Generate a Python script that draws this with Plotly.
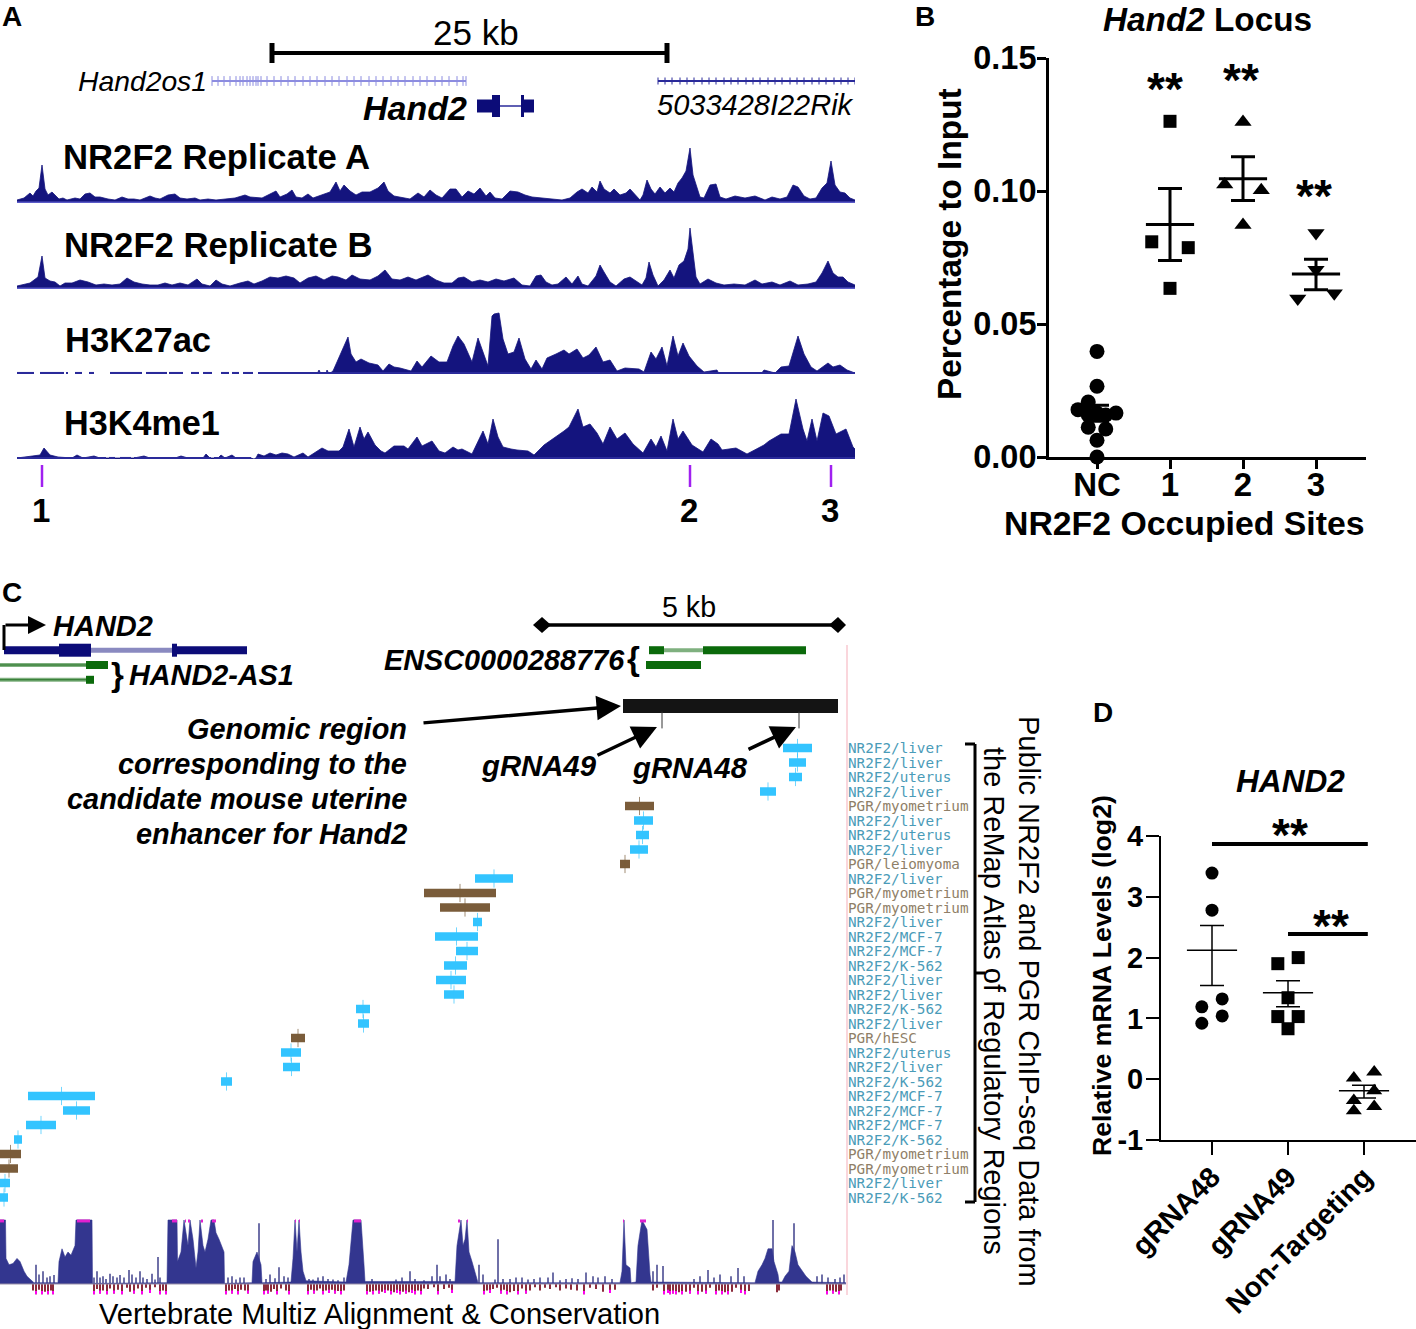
import plotly.graph_objects as go

W, H = 1416, 1329
FONT = "Liberation Sans"
NAVY = "#14147e"

# ================= PANEL A DATA =================
# (position, signal height) read off the browser tracks
TRACK_A = [(17,3),(24,5),(30,10),(33,7),(36,12),(39,15),(42,38),(45,14),(48,8),(52,11),(55,8),(59,4),(63,5),(67,3),(75,5),(80,4),
    (85,9),(90,10),(95,6),(100,6),(108,4),(115,3),(122,6),(128,4),(134,4),(140,3),(150,7),(155,5),(160,4),(168,8),(175,9),(180,5),
    (187,4),(195,5),(200,3),(208,4),(216,3),(225,4),(235,5),(245,8),(250,6),(262,5),(272,10),(276,12),(280,6),(287,9),(292,13),
    (296,6),(302,5),(308,9),(313,5),(322,8),(330,11),(336,21),(340,12),(344,18),(350,12),(356,8),(362,11),(370,11),(378,15),(384,21),
    (388,12),(394,7),(400,6),(410,4),(418,10),(424,6),(430,13),(436,8),(442,5),(450,14),(456,14),(462,6),(468,12),(474,9),(480,15),
    (486,7),(490,11),(495,5),(502,4),(510,12),(518,11),(525,8),(532,6),(540,5),(550,4),(562,3),(570,5),(577,11),(582,14),(588,10),
    (592,16),(597,11),(600,22),(604,14),(610,10),(614,14),(620,8),(626,10),(630,14),(636,7),(640,3),(643,8),(647,23),(651,14),(655,9),
    (660,16),(665,10),(670,15),(674,11),(678,20),(682,25),(686,32),(690,55),(693,28),(697,14),(700,6),(704,5),(710,18),(716,19),(720,6),
    (726,4),(735,7),(745,5),(755,7),(765,3),(772,6),(780,4),(787,6),(793,18),(798,16),(804,7),(810,4),(816,5),(822,15),(827,20),(831,42),
    (835,18),(840,11),(845,10),(850,5),(855,3)]
TRACK_B = [(17,3),(24,5),(30,6),(34,9),(38,12),(42,33),(45,11),(50,8),(55,7),(60,3),(65,6),(72,6),(80,9),(88,7),(96,4),(104,5),(112,4),
    (120,5),(127,11),(134,7),(142,5),(150,4),(158,4),(165,6),(172,4),(180,6),(188,4),(197,10),(202,5),(210,3),(216,9),(222,5),(230,3),
    (240,6),(248,8),(254,5),(262,8),(270,12),(278,11),(286,13),(294,11),(300,6),(308,11),(316,13),(324,9),(332,13),(338,12),(346,9),
    (352,14),(360,10),(370,9),(378,13),(385,19),(392,10),(400,9),(408,12),(416,9),(428,14),(436,9),(444,6),(452,6),(458,11),(464,12),
    (472,7),(480,9),(488,7),(496,10),(504,8),(514,11),(522,4),(530,3),(536,13),(541,14),(546,7),(552,4),(558,5),(566,12),(572,5),(578,13),
    (582,5),(588,3),(596,13),(600,24),(604,17),(610,7),(616,3),(624,10),(630,12),(636,8),(642,4),(646,11),(649,27),(653,14),(658,3),
    (664,9),(670,19),(674,11),(679,24),(684,28),(688,40),(690,61),(693,33),(696,12),(700,5),(708,10),(716,6),(724,4),(734,5),(745,4),
    (755,9),(762,5),(772,7),(780,4),(790,8),(798,4),(808,5),(816,7),(822,16),(828,28),(833,16),(838,12),(843,12),(848,7),(855,4)]
TRACK_C = [(317,0),(319,4),(321,0),(326,0),(327,4),(329,0),(333,3),(336,10),(339,16),(348,37),(351,20),(356,12),(361,15),(369,11),(378,9),
    (383,3),(389,10),(394,7),(400,6),(411,3),(417,13),(422,7),(431,18),(439,12),(447,12),(453,28),(458,38),(464,30),(472,12),(478,36),
    (483,22),(488,8),(492,58),(494,60),(499,61),(503,35),(508,20),(514,22),(519,36),(525,15),(531,5),(536,14),(542,5),(547,16),(556,20),
    (564,24),(569,20),(577,25),(583,16),(589,19),(596,27),(603,12),(610,14),(617,3),(625,6),(639,5),(644,2),(651,22),(656,15),(662,27),
    (667,8),(673,38),(678,18),(683,31),(689,18),(697,8),(704,2),(717,4),(719,0),(761,0),(764,4),(775,1),(781,7),(789,8),(798,38),(804,20),
    (811,7),(817,3),(828,11),(833,7),(840,9),(847,4),(855,1)]
TRACK_D = [(17,1),(33,3),(40,4),(44,11),(50,4),(58,2),(72,1),(77,4),(83,1),(94,3),(100,1),(106,1),(134,1),(144,3),(150,1),(175,1),(181,3),
    (188,1),(203,1),(206,5),(210,1),(218,1),(221,4),(225,1),(232,4),(236,1),(251,1),(254,0),(256,1),(258,5),(264,3),(270,6),(276,4),(282,6),
    (288,5),(294,2),(303,6),(308,2),(322,11),(328,8),(335,8),(339,8),(343,12),(349,30),(354,12),(360,32),(364,20),(368,27),(375,14),(381,8),
    (385,6),(394,13),(404,13),(408,10),(417,22),(422,13),(432,18),(439,8),(445,6),(453,12),(458,9),(462,10),(472,5),(483,28),(488,15),(493,40),
    (498,22),(503,12),(511,10),(517,9),(528,8),(534,4),(544,14),(556,22),(564,28),(569,32),(578,50),(583,32),(590,35),(597,26),(603,15),(610,32),
    (617,20),(625,26),(633,15),(643,6),(651,20),(656,12),(661,23),(667,8),(673,40),(678,20),(683,28),(692,14),(703,7),(711,20),(718,15),(722,9),
    (736,11),(747,5),(764,14),(769,18),(781,25),(789,25),(796,60),(803,30),(807,18),(812,40),(817,18),(823,46),(829,43),(836,25),(846,30),(853,12),(855,10)]
track_tops = [203, 289, 374, 459]
track_data = [TRACK_A, TRACK_B, TRACK_C, TRACK_D]
track_names = ["NR2F2 Replicate A", "NR2F2 Replicate B", "H3K27ac", "H3K4me1"]
track_label_x = [62, 63, 64, 63]
track_label_y = [157, 245, 340, 423]
track_label_size = [34.7, 34.7, 34.6, 34.2]

# covered stretches of the two histone tracks
k27_start = [17,40,66,75,89,110,146,169,191,203,221,232,243,258]
k27_end = [34,64,68,82,94,142,167,183,199,212,229,239,253,855]
k4_start = [17,109,120,134,214,256]
k4_end = [106,115,131,211,251,855]

sites = ["1", "2", "3"]
site_pos = [42, 690, 831]

hand2os1_ticks = [212,218,224,230,236,240,243,247,250,253,256,258,261,267,274,281,288,295,303,310,317,325,332,339,347,354,361,369,376,383,391,398,405,413,420,427,435,442,449,457,463,466]
rik_ticks = [658,665,672,680,687,694,702,709,716,724,731,738,746,753,760,768,775,782,790,797,804,812,819,826,834,841,848,855]
hand2_thin_start = [477, 524]
hand2_thin_end = [492, 534]
hand2_thick_start = [492, 521]
hand2_thick_end = [500, 524]

# ================= PANEL B DATA =================
b_cats = ["NC", "1", "2", "3"]
nc_x = [0,0,-0.12,-0.26,0.26,0,-0.12,0.12,-0.12,0.12,0,0]
nc_y = [0.0397,0.0266,0.0207,0.0178,0.0165,0.0165,0.0158,0.0158,0.0112,0.0105,0.0063,0.0]
s1_x = [1,0.75,1.25,1]
s1_y = [0.1262,0.0809,0.0787,0.0634]
s2_x = [2,1.75,2.25,2]
s2_y = [0.1259,0.1024,0.1003,0.0872]
s3_x = [3,3,2.75,3.25]
s3_y = [0.0842,0.0704,0.0596,0.0616]
b_mean = [0.0164,0.0874,0.1046,0.0688]
b_err_up = [0.0031,0.0135,0.0083,0.0055]
b_err_down = [0.0030,0.0135,0.0082,0.0059]

# ================= PANEL D DATA =================
d_cats = ["gRNA48", "gRNA49", "Non-Targeting"]
d_ticks = [-1, 0, 1, 2, 3, 4]
d_tick_text = ["-1", "0", "1", "2", "3", "4"]
g48_x = [0,0,0.134,-0.134,0.134,-0.134]
g48_y = [3.39,2.78,1.32,1.19,1.04,0.92]
g49_x = [1.134,0.866,1,0.866,1.134,1]
g49_y = [2.0,1.9,1.34,1.03,1.03,0.83]
nt_x = [2.134,1.866,2.134,1.866,2.134,1.866]
nt_y = [0.12,0.02,-0.19,-0.35,-0.45,-0.52]
d_mean = [2.12,1.42,-0.19]
d_err_up = [0.41,0.20,0.09]
d_err_down = [0.58,0.23,0.12]
d_sig_start = [0,1]
d_sig_end = [2.05,2.05]
d_sig_y = [3.87,2.39]

# ================= PANEL C DATA =================
remap_labels = ["NR2F2/liver","NR2F2/liver","NR2F2/uterus","NR2F2/liver","PGR/myometrium","NR2F2/liver","NR2F2/uterus","NR2F2/liver",
    "PGR/leiomyoma","NR2F2/liver","PGR/myometrium","PGR/myometrium","NR2F2/liver","NR2F2/MCF-7","NR2F2/MCF-7","NR2F2/K-562",
    "NR2F2/liver","NR2F2/liver","NR2F2/K-562","NR2F2/liver","PGR/hESC","NR2F2/uterus","NR2F2/liver","NR2F2/K-562",
    "NR2F2/MCF-7","NR2F2/MCF-7","NR2F2/MCF-7","NR2F2/K-562","PGR/myometrium","PGR/myometrium","NR2F2/liver","NR2F2/K-562"]
remap_start = [783,789,789,760,625,634,636,630,620,475,424,440,473,435,456,444,436,444,356,358,291,281,283,221,28,63,26,14,0,0,0,0]
remap_end = [812,806,802,776,654,653,649,648,630,513,496,490,482,478,478,467,466,464,370,369,305,301,300,232,95,90,56,22,21,18,10,8]

# gene rows: 0 = ENSC/HAND2 top, 1 = second, 2 = third
hand2_big_start = [59,172]
hand2_big_end = [91,177]
as1_intron_start = [0,0]
as1_intron_end = [86,86]
as1_intron_row = [1,2]
as1_exon_start = [86,86]
as1_exon_end = [108,94]
as1_exon_row = [1,2]
ensc_exon_start = [649,703,646]
ensc_exon_end = [664,806,701]
ensc_exon_row = [0,0,1]
grna_pos = [662,799]

# conservation: saturated blocks and the envelope between them
CONS = [(0,1),(5.5,1),(6,.4),(9,.3),(13,.32),(17,.4),(20,.35),(24,.2),(27,.12),(30,.07),(34,.02),(58,.02),(59,.35),(62,.55),(65,.42),(68,.5),
    (71,.45),(75,.6),(76,1),(92,1),(92.5,.01),(167,.02),(168,1),(177,1),(177.5,.35),(181,.5),(184,1),(188,.6),(190,1),(193,.7),(196,.25),(198,.5),
    (200,1),(203,.6),(205,.5),(208,.7),(211,1),(214,1),(216,.8),(219,.7),(224,.5),(224.5,.01),(252,.02),(253,.35),(257,.5),(261,.3),(262,.02),
    (291,.03),(293,.4),(295,1),(297,.5),(299,1),(301,.5),(303,.2),(306,.05),(346,.03),(349,.3),(353,1),(361,1),(364,.3),(365,.04),(455,.04),
    (457,.6),(459,.8),(461,1),(463,.6),(465,.7),(467,1),(469,.5),(472,.35),(477,.1),(478,.02),(620,.02),(622,.2),(624,1),(626,.3),(630,.25),
    (631,.02),(636,.03),(638,.6),(642,1),(647,.85),(650,.15),(651,.03),(755,.02),(758,.2),(762,.3),(765,.4),(768,.55),(772,.55),(774,.35),(778,.15),
    (779,.03),(782,.03),(785,.12),(789,.2),(792,.6),(795,.5),(798,.3),(802,.2),(806,.12),(812,.03),(846,.02)]
CONS_SPIKES = [(36,.3),(39,.15),(43,.2),(47,.1),(50,.12),(54,.14),(94,.1),(97,.2),(100,.1),(103,.12),(106,.08),(110,.16),(113,.12),(117,.1),(120,.14),(124,.1),(129,.22),
    (132,.15),(136,.1),(140,.2),(143,.1),(147,.08),(152,.16),(155,.07),(158,.42),(160,.1),(228,.1),(232,.12),(236,.07),(240,.1),(244,.1),(259,.95),(266,.08),(270,.15),
    (275,.09),(279,.26),(284,.12),(288,.1),(309,.08),(313,.07),(318,.1),(323,.12),(328,.08),(333,.07),(338,.06),(344,.1),(372,.08),(396,.07),(402,.1),(410,.2),(415,.08),
    (424,.06),(432,.12),(437,.3),(440,.12),(446,.15),(450,.08),(479,.3),(483,.15),(495,.07),(498,.7),(503,.08),(510,.08),(516,.1),(522,.1),(528,.07),(534,.08),(540,.1),
    (548,.1),(553,.18),(560,.06),(566,.08),(572,.09),(578,.08),(586,.18),(593,.12),(598,.1),(605,.12),(612,.08),(653,.2),(657,.3),(663,.28),(694,.08),(700,.12),(708,.22),
    (714,.1),(720,.15),(731,.12),(738,.25),(744,.12),(773,1.0),(794,.95),(817,.12),(822,.15),(828,.1),(835,.08),(840,.1),(844,.15)]
cons_cap_start = [0,77,172,185,188,201,212,295,299,354,458,467,623,640]
cons_cap_end = [4,90,177,186,190,203,216,296,300,361,460,468,624,646]
CONS_NEG = [(33,-.1),(36,-.16),(39,-.09),(42,-.16),(45,-.12),(48,-.16),(51,-.1),(53,-.16),(94,-.16),(97,-.08),(100,-.15),(103,-.1),(107,-.16),(110,-.07),(114,-.15),
    (118,-.09),(122,-.16),(127,-.06),(130,-.12),(134,-.15),(138,-.07),(142,-.16),(146,-.06),(150,-.14),(155,-.05),(160,-.16),(163,-.1),(166,-.16),
    (226,-.16),(229,-.1),(232,-.15),(235,-.08),(238,-.16),(241,-.09),(245,-.1),(248,-.15),(264,-.16),(266,-.1),(268,-.15),(271,-.12),(274,-.08),(277,-.16),(281,-.07),(286,-.1),(289,-.16),
    (308,-.16),(311,-.09),(314,-.15),(317,-.1),(320,-.07),(323,-.16),(326,-.1),(329,-.14),(332,-.09),(335,-.15),(338,-.11),(341,-.16),(344,-.1),
    (367,-.16),(370,-.12),(373,-.16),(376,-.1),(379,-.15),(382,-.12),(385,-.14),(388,-.1),(391,-.16),(394,-.13),(397,-.14),(400,-.16),(403,-.12),(406,-.15),(409,-.13),(412,-.14),(415,-.16),(418,-.1),(421,-.16),(424,-.07),(428,-.08),(434,-.05),(438,-.16),(444,-.08),(449,-.06),(452,-.14),
    (484,-.16),(487,-.1),(490,-.14),(493,-.08),(497,-.06),(501,-.15),(504,-.09),(507,-.16),(510,-.13),(514,-.11),(518,-.16),(522,-.07),(526,-.15),(530,-.1),(535,-.05),(540,-.1),(545,-.06),(550,-.08),(556,-.05),(560,-.1),(566,-.07),(571,-.09),(577,-.1),(584,-.16),(590,-.06),(596,-.08),(603,-.12),(610,-.14),(615,-.09),
    (653,-.1),(657,-.06),(664,-.16),(668,-.14),(670,-.16),(673,-.15),(676,-.16),(679,-.13),(682,-.16),(686,-.12),(690,-.15),(694,-.06),(698,-.16),(702,-.12),(706,-.15),(710,-.06),(716,-.16),(719,-.1),(722,-.16),(725,-.13),(728,-.16),(732,-.12),(736,-.06),(741,-.14),(745,-.16),(749,-.11),
    (777,-.13),(779,-.1),(827,-.16),(830,-.1),(833,-.15),(836,-.12),(839,-.16),(841,-.1)]

# ================= HELPERS =================
def dom_x(left, right):
    return [left / W, right / W]

def dom_y(top, bottom):
    return [1 - bottom / H, 1 - top / H]

def hidden_x(left, right, lo, hi):
    return dict(domain=dom_x(left, right), range=[lo, hi], visible=False)

def hidden_y(top, bottom, lo, hi, anchor="x"):
    return dict(domain=dom_y(top, bottom), range=[lo, hi], visible=False, anchor=anchor)

def segments(starts, ends, rows):
    xs, ys = [], []
    for s, e, r in zip(starts, ends, rows):
        xs += [s, e, None]
        ys += [r, r, None]
    return xs, ys

def blocks(fig, starts, ends, rows, color, width, xa, ya):
    xs, ys = segments(starts, ends, rows)
    fig.add_trace(go.Scatter(x=xs, y=ys, mode="lines", xaxis=xa, yaxis=ya, cliponaxis=False,
                             line=dict(color=color, width=width), hoverinfo="skip"))

def label(x, y, text, size, anchor="left", angle=0, color="black", family=FONT):
    annotations.append(dict(x=x / W, y=1 - y / H, xref="paper", yref="paper", text=text, showarrow=False,
                            xanchor=anchor, yanchor="middle", textangle=angle, borderpad=0,
                            font=dict(family=family, size=size, color=color)))

def arrow(x0, y0, x1, y1, width=3, size=1.0):
    annotations.append(dict(x=x1 / W, y=1 - y1 / H, ax=x0 - x1, ay=y0 - y1, xref="paper", yref="paper",
                            axref="pixel", ayref="pixel", text="", showarrow=True, arrowhead=2,
                            arrowwidth=width, arrowsize=size, arrowcolor="black"))

def rule(x0, y0, x1, y1, width=3, color="black"):
    shapes.append(dict(type="line", xref="paper", yref="paper", x0=x0 / W, y0=1 - y0 / H, x1=x1 / W, y1=1 - y1 / H,
                       line=dict(color=color, width=width)))

def dots(fig, xs, ys, symbol, size, xa, ya):
    fig.add_trace(go.Scatter(x=xs, y=ys, mode="markers", xaxis=xa, yaxis=ya, cliponaxis=False,
                             marker=dict(symbol=symbol, size=size, color="black")))

def mean_sem(fig, cats, mean, up, down, half, thick, cap, xa, ya):
    fig.add_trace(go.Scatter(x=cats, y=mean, mode="markers", xaxis=xa, yaxis=ya, cliponaxis=False, marker=dict(size=1, color="black"),
                             error_x=dict(type="data", array=[half] * len(cats), color="black", thickness=thick, width=0),
                             error_y=dict(type="data", symmetric=False, array=up, arrayminus=down, color="black", thickness=thick, width=cap)))

fig = go.Figure()
annotations, shapes = [], []

# ================= PANEL A =================
layout_axes = {"xaxis": hidden_x(17, 855, 17, 855)}
track_axes = ["y", "y2", "y3", "y4"]
for i, (data, base, ya) in enumerate(zip(track_data, track_tops, track_axes)):
    key = "yaxis" if i == 0 else f"yaxis{i + 1}"
    layout_axes[key] = hidden_y(base - 70, base, 0, 70)
    fig.add_trace(go.Scatter(x=[p[0] for p in data], y=[p[1] for p in data], mode="lines", fill="tozeroy", xaxis="x", yaxis=ya,
                             fillcolor=NAVY, line=dict(color=NAVY, width=0.8), cliponaxis=False))
    label(track_label_x[i], track_label_y[i], f"<b>{track_names[i]}</b>", track_label_size[i])

blocks(fig, [17], [855], [0.4], "#5a5ac8", 2, "x", "y")
blocks(fig, [17], [855], [0.4], "#5a5ac8", 2, "x", "y2")
blocks(fig, k27_start, k27_end, [0.8] * len(k27_start), "#2a2a9a", 2.5, "x", "y3")
blocks(fig, k4_start, k4_end, [0.8] * len(k4_start), "#2a2a9a", 2.5, "x", "y4")

# gene models, rows are 25 px apart
layout_axes["yaxis5"] = hidden_y(66, 121, 1.6, -0.6)
blocks(fig, [212], [466], [0], "#8c8ce0", 2, "x", "y5")
fig.add_trace(go.Scatter(x=hand2os1_ticks, y=[0] * len(hand2os1_ticks), mode="markers", xaxis="x", yaxis="y5",
                         marker=dict(symbol="line-ns", size=7, line=dict(color="#8c8ce0", width=1))))
blocks(fig, [658], [855], [0], "#2a2a9a", 2, "x", "y5")
fig.add_trace(go.Scatter(x=rik_ticks, y=[0] * len(rik_ticks), mode="markers", xaxis="x", yaxis="y5",
                         marker=dict(symbol="line-ns", size=5, line=dict(color="#2a2a9a", width=1))))
blocks(fig, [500], [521], [1], "#2a2a9a", 1.5, "x", "y5")
blocks(fig, hand2_thin_start, hand2_thin_end, [1, 1], "#0c0c78", 13, "x", "y5")
blocks(fig, hand2_thick_start, hand2_thick_end, [1, 1], "#0c0c78", 22, "x", "y5")

# occupied sites
layout_axes["yaxis6"] = hidden_y(465, 487, 0, 1)
fig.add_trace(go.Scatter(x=site_pos, y=[0.5] * 3, mode="markers", xaxis="x", yaxis="y6",
                         marker=dict(symbol="line-ns", size=22, line=dict(color="#a020f0", width=2.5))))
for s, p in zip(sites, site_pos):
    label(p - 1, 510, f"<b>{s}</b>", 33, anchor="center")

rule(271, 53, 668, 53, 4)
rule(272, 43, 272, 63, 5)
rule(667, 43, 667, 63, 5)
label(476, 33, "25 kb", 35, anchor="center")
label(77, 81, "<i>Hand2os1</i>", 28.3)
label(362, 108, "<b><i>Hand2</i></b>", 34)
label(656, 105, "<i>5033428I22Rik</i>", 29)
label(1, 16, "<b>A</b>", 28)

# ================= PANEL B =================
layout_axes["xaxis2"] = dict(domain=dom_x(1049, 1366), range=[-0.6575, 3.685], anchor="y7", tickmode="array", tickvals=[0, 1, 2, 3],
                             ticktext=b_cats, showline=True, linewidth=3, linecolor="black", ticks="outside", ticklen=9, tickwidth=3,
                             tickcolor="black", showgrid=False, zeroline=False, ticklabelstandoff=-13,
                             tickfont=dict(family=FONT, size=33, color="black", weight="bold"))
layout_axes["yaxis7"] = dict(domain=dom_y(58, 457), range=[0, 0.15], anchor="x2", tickmode="array", tickvals=[0, 0.05, 0.10, 0.15],
                             ticktext=["0.00", "0.05", "0.10", "0.15"], showline=True, linewidth=3, linecolor="black", ticks="outside", ticklen=9,
                             tickwidth=3, tickcolor="black", showgrid=False, zeroline=False, ticklabelstandoff=-6,
                             tickfont=dict(family=FONT, size=32.5, color="black", weight="bold"))
dots(fig, nc_x, nc_y, "circle", 15, "x2", "y7")
dots(fig, s1_x, s1_y, "square", 13, "x2", "y7")
dots(fig, s2_x, s2_y, "triangle-up", 15, "x2", "y7")
dots(fig, s3_x, s3_y, "triangle-down", 15, "x2", "y7")
mean_sem(fig, [0, 1, 2, 3], b_mean, b_err_up, b_err_down, 0.33, 3, 12, "x2", "y7")
label(1165, 89, "<b>**</b>", 46, anchor="center")
label(1241, 80, "<b>**</b>", 46, anchor="center")
label(1314, 196, "<b>**</b>", 46, anchor="center")
label(1207, 19, "<b><i>Hand2</i> Locus</b>", 33.3, anchor="center")
label(950, 244, "<b>Percentage to Input</b>", 33.4, anchor="center", angle=-90)
label(1184, 523, "<b>NR2F2 Occupied Sites</b>", 33.8, anchor="center")
label(914, 16, "<b>B</b>", 28)

# ================= PANEL D =================
layout_axes["xaxis3"] = dict(domain=dom_x(1161, 1416), range=[-0.671, 2.684], anchor="y8", tickmode="array", tickvals=[0, 1, 2],
                             ticktext=d_cats, tickangle=-45, showline=True, linewidth=2, linecolor="black", ticks="outside", ticklen=13, tickwidth=2,
                             tickcolor="black", showgrid=False, zeroline=False, ticklabelstandoff=-6,
                             tickfont=dict(family=FONT, size=28.5, color="black", weight="bold"))
layout_axes["yaxis8"] = dict(domain=dom_y(836, 1140), range=[-1, 4], anchor="x3", tickmode="array", tickvals=d_ticks, ticktext=d_tick_text,
                             showline=True, linewidth=2, linecolor="black", ticks="outside", ticklen=13, tickwidth=2, tickcolor="black",
                             showgrid=False, zeroline=False, ticklabelstandoff=-3, tickfont=dict(family=FONT, size=29, color="black", weight="bold"))
dots(fig, g48_x, g48_y, "circle", 13, "x3", "y8")
dots(fig, g49_x, g49_y, "square", 13, "x3", "y8")
dots(fig, nt_x, nt_y, "triangle-up", 14, "x3", "y8")
mean_sem(fig, [0, 1, 2], d_mean, d_err_up, d_err_down, 0.33, 1.5, 12, "x3", "y8")
blocks(fig, d_sig_start, d_sig_end, d_sig_y, "black", 4, "x3", "y8")
label(1290, 835, "<b>**</b>", 46, anchor="center")
label(1331, 926, "<b>**</b>", 46, anchor="center")
label(1290, 781, "<b><i>HAND2</i></b>", 31.6, anchor="center")
label(1102, 976, "<b>Relative mRNA Levels (log2)</b>", 26.7, anchor="center", angle=-90)
label(1092, 712, "<b>D</b>", 28)

# ================= PANEL C =================
layout_axes["xaxis4"] = hidden_x(0, 1000, 0, 1000)
layout_axes["yaxis9"] = hidden_y(748 - 7.25, 1197.5 + 7.25, 31.5, -0.5, anchor="x4")
for i, name in enumerate(remap_labels):
    is_pgr = name.startswith("PGR")
    color = "#7a5c3a" if is_pgr else "#33c4ff"
    blocks(fig, [remap_start[i]], [remap_end[i]], [i], color, 8.5, "x4", "y9")
    mid = (remap_start[i] + remap_end[i]) / 2
    fig.add_trace(go.Scatter(x=[mid], y=[i], mode="markers", xaxis="x4", yaxis="y9", cliponaxis=False,
                             marker=dict(symbol="line-ns", size=13, line=dict(color=color, width=0.7))))
    annotations.append(dict(x=846, y=i, xref="x4", yref="y9", text=name, showarrow=False, xanchor="left", yanchor="middle",
                            font=dict(family="DejaVu Sans Mono", size=14.3, color="#8f7f68" if is_pgr else "#4a9bb8")))

# gene rows 14.5 px apart
layout_axes["yaxis10"] = hidden_y(640, 690, 2.69, -0.69, anchor="x4")
blocks(fig, [91], [172], [0], "#8a8ac0", 5, "x4", "y10")
blocks(fig, [4, 177], [59, 247], [0, 0], "#0c0c78", 8, "x4", "y10")
blocks(fig, hand2_big_start, hand2_big_end, [0, 0], "#0c0c78", 13, "x4", "y10")
blocks(fig, as1_intron_start, as1_intron_end, as1_intron_row, "#7fb07f", 4, "x4", "y10")
blocks(fig, as1_intron_start, as1_intron_end, as1_intron_row, "#1f6f1f", 1, "x4", "y10")
blocks(fig, as1_exon_start, as1_exon_end, as1_exon_row, "#0b6a0b", 8, "x4", "y10")
blocks(fig, [664], [703], [0], "#7fb07f", 4, "x4", "y10")
blocks(fig, ensc_exon_start, ensc_exon_end, ensc_exon_row, "#0b6a0b", 8, "x4", "y10")

# black region and guide positions
layout_axes["yaxis11"] = hidden_y(699, 727, 1, 0, anchor="x4")
blocks(fig, [623], [838], [0.25], "#141414", 14, "x4", "y11")
fig.add_trace(go.Scatter(x=grna_pos, y=[0.75, 0.75], mode="markers", xaxis="x4", yaxis="y11", cliponaxis=False,
                         marker=dict(symbol="line-ns", size=12, line=dict(color="#333333", width=1))))

# conservation
layout_axes["yaxis12"] = hidden_y(1216, 1296, -0.1875, 1.0625, anchor="x4")
fig.add_trace(go.Bar(x=[p[0] for p in CONS_SPIKES], y=[p[1] for p in CONS_SPIKES], width=1.2, xaxis="x4", yaxis="y12",
                     marker=dict(color="#6f70a8", line=dict(width=0))))
fig.add_trace(go.Scatter(x=[p[0] for p in CONS], y=[p[1] for p in CONS], mode="lines", fill="tozeroy", fillcolor="#33368f",
                         line=dict(color="#33368f", width=0.6), xaxis="x4", yaxis="y12"))
fig.add_trace(go.Bar(x=[p[0] for p in CONS_NEG], y=[p[1] for p in CONS_NEG], width=1.5, xaxis="x4", yaxis="y12",
                     marker=dict(color="#8b2b3b", line=dict(width=0))))
deep = [p for p in CONS_NEG if p[1] <= -0.14]
fig.add_trace(go.Bar(x=[p[0] for p in deep], y=[-0.05] * len(deep), base=[p[1] + 0.05 for p in deep], width=1.5, xaxis="x4", yaxis="y12",
                     marker=dict(color="#ff00f0", line=dict(width=0))))
blocks(fig, cons_cap_start, cons_cap_end, [0.985] * len(cons_cap_start), "#e020d0", 3, "x4", "y12")
blocks(fig, [0], [846], [0], "#9a90a8", 1.2, "x4", "y12")

rule(847, 645, 847, 1295, 1.5, "#f8c8d0")
rule(541, 625, 838, 625, 3.5)
shapes.append(dict(type="path", xref="paper", yref="paper", line=dict(color="black", width=0), fillcolor="black",
                   path=f"M {533/W},{1-625/H} L {542/W},{1-617/H} L {551/W},{1-625/H} L {542/W},{1-633/H} Z"))
shapes.append(dict(type="path", xref="paper", yref="paper", line=dict(color="black", width=0), fillcolor="black",
                   path=f"M {829/W},{1-625/H} L {838/W},{1-617/H} L {846/W},{1-625/H} L {838/W},{1-633/H} Z"))

# brace next to the ReMap labels
rule(965, 744, 975, 744, 3)
rule(975, 744, 975, 1202, 3)
rule(965, 1202, 975, 1202, 3)
rule(975, 973, 985, 973, 3)

rule(4, 650, 4, 625, 3)
arrow(4, 625, 46, 625, 3, 1.2)
arrow(422, 723, 621, 706, 3.5, 1.4)
arrow(596, 756, 657, 727, 3.5, 1.4)
arrow(747, 750, 796, 727, 3.5, 1.4)

label(689, 607, "5 kb", 28.6, anchor="center")
label(52, 626, "<b><i>HAND2</i></b>", 29)
label(110, 674, "<b>}</b>", 33)
label(128, 675, "<b><i>HAND2-AS1</i></b>", 28.8)
label(383, 660, "<b><i>ENSC0000288776</i></b>", 28.8)
label(626, 658, "<b>{</b>", 33)
region_lines = ["Genomic region", "corresponding to the", "candidate mouse uterine", "enhancer for Hand2"]
region_y = [729, 764, 799, 834]
for line, y in zip(region_lines, region_y):
    label(408, y, f"<b><i>{line}</i></b>", 28.9, anchor="right")
label(480, 765, "<b><i>gRNA49</i></b>", 29.3)
label(631, 768, "<b><i>gRNA48</i></b>", 29.3)
label(98, 1314, "Vertebrate Multiz Alignment &amp; Conservation", 29.1)
label(1029, 1001, "Public NR2F2 and PGR ChIP-seq Data from", 29, anchor="center", angle=90)
label(994, 1001, "the ReMap Atlas of Regulatory Regions", 29, anchor="center", angle=90)
label(1, 592, "<b>C</b>", 28)

fig.update_layout(width=W, height=H, margin=dict(l=0, r=0, t=0, b=0, autoexpand=False), autosize=False, showlegend=False,
                  paper_bgcolor="white", plot_bgcolor="white", hovermode=False, barmode="overlay",
                  annotations=annotations, shapes=shapes, **layout_axes)

fig.write_html("out.html", post_script="document.body.style.margin='0';", config=dict(displayModeBar=False))
